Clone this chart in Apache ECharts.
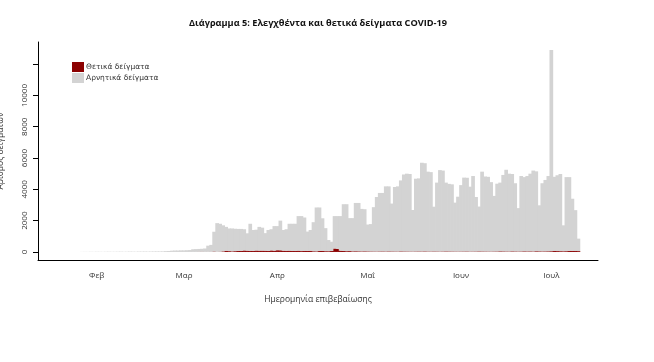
<!DOCTYPE html>
<html>
<head>
<meta charset="utf-8">
<script src="https://cdn.jsdelivr.net/npm/echarts@6/dist/echarts.min.js"></script>
<style>
html,body{margin:0;padding:0;background:#fff;}
#chart{width:654px;height:362px;}
</style>
</head>
<body>
<div id="chart"></div>
<script>
// ---- axis domain (days shown on the x axis) ----
const axisStart = '2020-01-13';
const axisDays = 186;
// ---- month ticks ----
const monthTicks = ['2020-02-01','2020-03-01','2020-04-01','2020-05-01','2020-06-01','2020-07-01'];
const monthLabels = ['Φεβ','Μαρ','Απρ','Μαΐ','Ιουν','Ιουλ'];
// ---- y ticks ----
const yTicks = [0,2000,4000,6000,8000,10000,12000];
const yLabels = [0,2000,4000,6000,8000,10000];
// ---- data (daily, starting at dataStart) ----
const dataStart = '2020-01-20';
const positiveJanFeb = [0,0,0,0,0,0,0, 0,0,0,0,0,0,0,0,0,0, 0,0,0,0,0,0,0,0,0,0, 0,0,0,0,0,0,0,0,0,0, 1,2,0,0];
const positiveMar = [2,0,0,2,2,10,13,5,7,11, 28,10,19,38,73,53,40,51,66,61,94,81,59,68,89,81,82,79,60,97,81];
const positiveApr = [110,105,80,75,80,60,60,80,55,70,65,75,45,40,70,60,50,48,60,220,200,80,60,50,55,40,45,40,35,40];
const positiveMay = [35,32,30,28,32,34,30,35,32,30,28,36,32,30,28,26,30,32,30,35,29,28,32,30,26,30,35,32,30,28,26];
const positiveJun = [28,30,32,26,28,30,35,32,30,28,26,30,32,40,36,32,30,38,34,30,32,40,35,38,32,45,40,35,38,42];
const positiveJul = [50,60,55,50,45,50,65,70,60,55];

const negativeJanFeb = [0,0,0,0,0,0,0, 5,8,6,10,8,12,10,8,12,15, 10,12,15,18,12,15,20,18,15,22, 20,25,20,25,28,30,30,35,50,60, 79,88,90,100];
const negativeMar = [98,110,120,168,178,180,187,215,393,439, 1262,1830,1781,1662,1527,1447,1460,1429,1404,1409,1356,1109,1741,1332,1331,1519,1468,1121,1340,1353,1569];
const negativeApr = [1540,1895,1320,1375,1720,1740,1740,2210,2235,2130,1235,1325,1855,2800,2770,2090,1470,712,590,2070,2090,2210,2990,3000,2105,2120,3085,3090,2715,2690];
const negativeMay = [1715,1748,2830,3482,3738,3736,4160,4155,3058,4120,4162,4534,4918,4970,4952,2654,4650,4668,5670,5635,5101,5072,2858,4400,5204,5170,4395,4318,4290,3122,3504];
const negativeJun = [4242,4720,4708,4144,4822,3480,2865,5098,4790,4772,4434,3550,4328,4390,4884,5218,4970,4942,4356,2770,4818,4740,4815,4962,5168,5105,2940,4355,4562,4808];
const negativeJul = [12850,4740,4845,4930,1655,4730,4715,3330,2610,795];

// ---- build category axis ----
function fmt(d){const m=d.getUTCMonth()+1, day=d.getUTCDate();return d.getUTCFullYear()+'-'+(m<10?'0':'')+m+'-'+(day<10?'0':'')+day;}
const categories = [];
const s0 = new Date(axisStart+'T00:00:00Z');
for (let i=0;i<axisDays;i++){ categories.push(fmt(new Date(s0.getTime()+i*86400000))); }
const offset = categories.indexOf(dataStart);
const positive = [].concat(positiveJanFeb, positiveMar, positiveApr, positiveMay, positiveJun, positiveJul);
const negative = [].concat(negativeJanFeb, negativeMar, negativeApr, negativeMay, negativeJun, negativeJul);
function pad(arr){ const out = new Array(axisDays).fill(null); arr.forEach((v,k)=>{ if(offset+k<axisDays) out[offset+k]=v; }); return out; }

const isMonth = (i, v) => monthTicks.indexOf(v) >= 0;
const chart = echarts.init(document.getElementById('chart'), null, {renderer:'canvas'});
chart.setOption({
  animation:false,
  backgroundColor:'#ffffff',
  title:{
    text:'Διάγραμμα 5: Ελεγχθέντα και θετικά δείγματα COVID-19',
    left:313, top:14, textAlign:'center',
    textStyle:{fontFamily:'Open Sans', fontWeight:'bold', fontSize:9.2, color:'#111'}
  },
  legend:{
    orient:'vertical', left:67, top:57, itemWidth:12, itemHeight:10, itemGap:1,
    icon:'rect',
    textStyle:{fontFamily:'DejaVu Sans', fontSize:7.5, color:'#333', padding:[0,0,0,-3]},
    data:['Θετικά δείγματα','Αρνητικά δείγματα']
  },
  grid:{left:38, right:56, top:42, bottom:102, containLabel:false, outerBoundsMode:'none'},
  xAxis:{
    type:'category', data:categories, boundaryGap:true,
    axisLine:{onZero:false, lineStyle:{color:'#000', width:1}},
    axisTick:{interval:isMonth, length:5, lineStyle:{color:'#000'}},
    axisLabel:{interval:isMonth, formatter:v=>monthLabels[monthTicks.indexOf(v)], fontFamily:'Open Sans', fontSize:8, color:'#333', margin:12},
    splitLine:{show:false},
    name:'Ημερομηνία επιβεβαίωσης', nameLocation:'middle', nameGap:35,
    nameTextStyle:{fontFamily:'Open Sans', fontSize:8.5, color:'#333'}
  },
  yAxis:{
    type:'value', min:-516, max:13416,
    axisLine:{show:true, lineStyle:{color:'#000', width:1}},
    axisTick:{show:true, length:5, customValues:yTicks, lineStyle:{color:'#000'}},
    axisLabel:{customValues:yLabels, formatter:v=>String(v), rotate:90, fontFamily:'Open Sans', fontSize:8, color:'#333', margin:9},
    splitLine:{show:false},
    name:'Αριθμός δειγμάτων', nameLocation:'middle', nameGap:33, nameRotate:90,
    nameTextStyle:{fontFamily:'Open Sans', fontSize:8.5, color:'#333'}
  },
  series:[
    {name:'Θετικά δείγματα', type:'bar', stack:'t', data:pad(positive), barWidth:3.7,
     itemStyle:{color:'#8B0000'}, silent:true},
    {name:'Αρνητικά δείγματα', type:'bar', stack:'t', data:pad(negative), barWidth:3.7,
     itemStyle:{color:'#D3D3D3'}, silent:true}
  ]
});
</script>
</body>
</html>
